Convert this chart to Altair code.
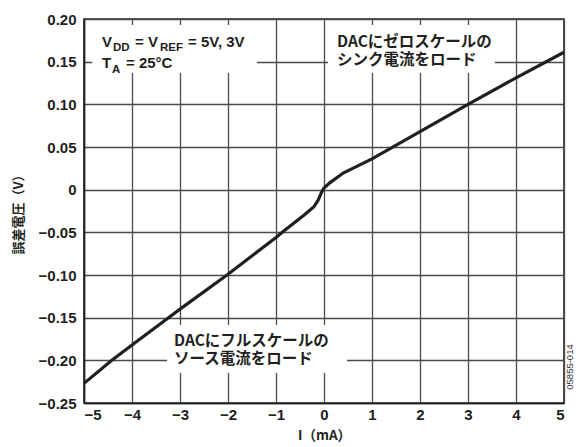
import altair as alt
import pandas as pd

# ---- data ----
current_mA = [-5, -4.42, -4, -3.24, -3, -2.02, -1, -0.87, -0.4, -0.21, -0.12, -0.05,
              0, 0.12, 0.4, 1, 2, 3, 4, 5]
error_V = [-0.227, -0.200, -0.182, -0.150, -0.140, -0.100, -0.056, -0.050, -0.029,
           -0.020, -0.012, -0.003, 0.002, 0.008, 0.0195, 0.036, 0.068, 0.100, 0.131, 0.161]

x_ticks = [-5, -4, -3, -2, -1, 0, 1, 2, 3, 4, 5]
y_ticks = [0.20, 0.15, 0.10, 0.05, 0, -0.05, -0.10, -0.15, -0.20, -0.25]

# white label boxes (data coordinates)
box_x1 = [-4.83, 0.083, -3.27]
box_x2 = [-1.40, 3.56, 0.48]
box_y1 = [0.1367, 0.1367, -0.2149]
box_y2 = [0.193, 0.193, -0.1586]

# condition text (pieces, to get subscripts)
cond_text = ["V", "DD", "=", "V", "REF", "= 5V, 3V", "T", "A", "= 25°C"]
cond_x = [-4.625, -4.396, -3.938, -3.667, -3.417, -2.833, -4.625, -4.417, -4.125]
cond_y = [0.1672, 0.1625, 0.1672, 0.1672, 0.1625, 0.1672, 0.1426, 0.1367, 0.1426]
cond_size = [15, 11.5, 15, 15, 11.5, 15, 15, 11.5, 15]

# Japanese annotations
jp_text = ["DACにゼロスケールの", "シンク電流をロード", "DACにフルスケールの", "ソース電流をロード"]
jp_x = [0.271, 0.271, -3.125, -3.125]
jp_y = [0.1672, 0.1461, -0.1832, -0.2043]

code_text = ["05855-014"]
code_x = [5.13]
code_y = [-0.2078]

line_df = pd.DataFrame({"I": current_mA, "V": error_V})
box_df = pd.DataFrame({"x1": box_x1, "x2": box_x2, "y1": box_y1, "y2": box_y2})
cond_df = pd.DataFrame({"t": cond_text, "x": cond_x, "y": cond_y, "s": cond_size})
jp_df = pd.DataFrame({"t": jp_text, "x": jp_x, "y": jp_y})
code_df = pd.DataFrame({"t": code_text, "x": code_x, "y": code_y})

LAT = "Liberation Sans"
CJK = "Noto Sans CJK JP"

xscale = alt.Scale(domain=[-5, 5], nice=False, zero=False)
yscale = alt.Scale(domain=[-0.25, 0.20], nice=False, zero=False)

xaxis = alt.Axis(values=x_ticks, grid=True, ticks=False,
                 labelExpr="replace(format(datum.value, 'd'), '-', '–')",
                 title="I（mA）", titleFont=CJK, titleFontSize=13.5, titleFontWeight="bold",
                 titleX=240, titleY=32, titleBaseline="middle", titleAlign="center")
yaxis = alt.Axis(values=y_ticks, grid=True, ticks=False, labelPadding=8,
                 labelExpr="datum.value == 0 ? '0' : replace(format(datum.value, '.2f'), '-', '–')",
                 title="誤差電圧（V）", titleFont=CJK, titleFontSize=13, titleFontWeight="bold",
                 titleX=-66, titleY=192, titleAngle=-90, titleBaseline="middle",
                 titleAlign="center")

boxes = alt.Chart(box_df).mark_rect(fill="white", stroke=None).encode(
    x=alt.X("x1:Q", scale=xscale, axis=xaxis),
    x2="x2:Q",
    y=alt.Y("y1:Q", scale=yscale, axis=yaxis),
    y2="y2:Q",
)

line = alt.Chart(line_df).mark_line(color="#231f20", strokeWidth=3.2).encode(
    x=alt.X("I:Q", scale=xscale),
    y=alt.Y("V:Q", scale=yscale),
)

cond = alt.Chart(cond_df).mark_text(align="left", baseline="alphabetic", font=LAT,
                                     fontWeight="bold", color="#231f20").encode(
    x=alt.X("x:Q", scale=xscale),
    y=alt.Y("y:Q", scale=yscale),
    text="t:N",
    size=alt.Size("s:Q", scale=None, legend=None),
)

jp = alt.Chart(jp_df).mark_text(align="left", baseline="alphabetic", font=CJK,
                                 fontSize=15.5, fontWeight="bold", color="#231f20").encode(
    x=alt.X("x:Q", scale=xscale),
    y=alt.Y("y:Q", scale=yscale),
    text="t:N",
)

code = alt.Chart(code_df).mark_text(align="center", baseline="middle", font=LAT,
                                     fontSize=9.5, angle=270, color="#333333").encode(
    x=alt.X("x:Q", scale=xscale),
    y=alt.Y("y:Q", scale=yscale),
    text="t:N",
)

chart = alt.layer(boxes, line, cond, jp, code).properties(
    width=480, height=384,
    autosize=alt.AutoSizeParams(type="none"),
    padding={"left": 76, "top": 11, "right": 10, "bottom": 40},
).configure_view(
    stroke="#231f20", strokeWidth=1.6
).configure_axis(
    gridColor="#4a4a4a", gridWidth=1.3, gridOpacity=1,
    domainColor="#231f20", domainWidth=1.6,
    labelFont=LAT, labelFontSize=15, labelFontWeight="bold", labelColor="#231f20",
    titleColor="#231f20",
).configure_axisX(labelBaseline="middle", labelPadding=11)

chart.save("out.html", embed_options={"renderer": "svg", "actions": False})
